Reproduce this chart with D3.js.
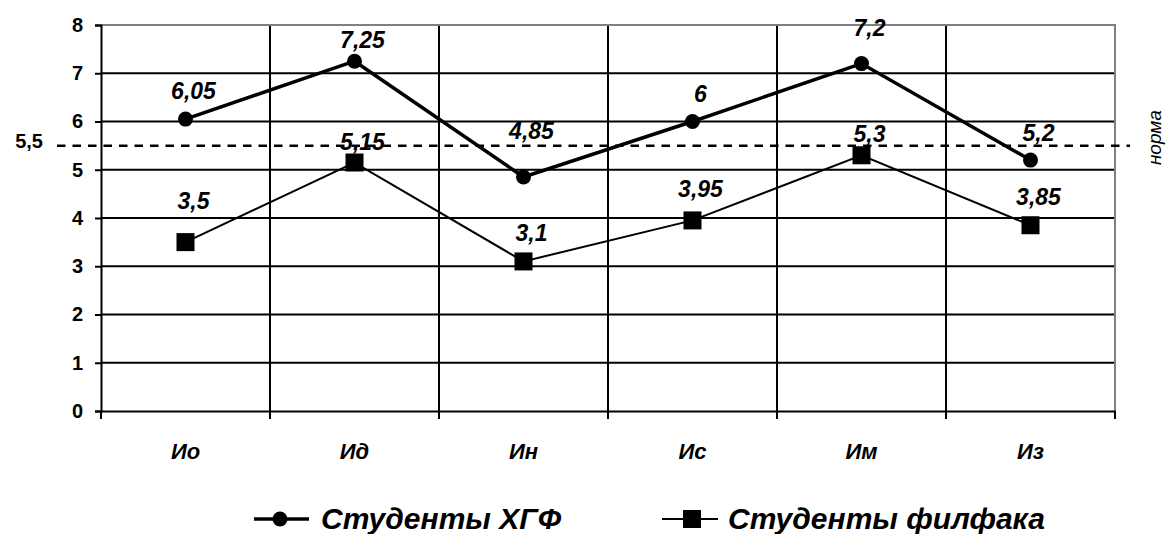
<!DOCTYPE html>
<html>
<head>
<meta charset="utf-8">
<script src="https://cdn.jsdelivr.net/npm/d3@7"></script>
<style>
  body { margin: 0; background: #fff; }
  svg text { font-family: Arial, "Liberation Sans", sans-serif; fill: #000; }
</style>
</head>
<body>
<div id="chart"></div>
<script>
// data
var categories = ["Ио", "Ид", "Ин", "Ис", "Им", "Из"];
var hgfValues = [6.05, 7.25, 4.85, 6, 7.2, 5.2];
var filValues = [3.5, 5.15, 3.1, 3.95, 5.3, 3.85];
var seriesNames = ["Студенты ХГФ", "Студенты филфака"];
var yTicks = [0, 1, 2, 3, 4, 5, 6, 7, 8];
var normValue = 5.5;
var normLabel = "норма";

// manual label shifts (as placed in the original)
var hgfLabelDy = [-20, -13, -38, -20, -28, -19];
var filLabelDy = [-33, -13, -20, -23, -13, -20];

var fmt = (v) => String(v).replace(".", ",");

var svg = d3.select("#chart").append("svg");
svg.attr("width", 1168).attr("height", 534);

var margin = { top: 25, left: 101, right: 53, bottom: 123 };
var width = 1168 - margin.left - margin.right;
var bottomY = 534 - margin.bottom;

var x = d3.scaleBand().domain(categories).range([margin.left, margin.left + width]).padding(0);
var y = d3.scaleLinear().domain([0, 8]).range([bottomY, margin.top]);
var cx = (c) => x(c) + x.bandwidth() / 2;

// horizontal grid
svg.append("g")
  .selectAll("line")
  .data(yTicks.filter((t) => t > 0 && t < 8))
  .join("line")
  .attr("x1", margin.left).attr("x2", margin.left + width)
  .attr("y1", (d) => y(d)).attr("y2", (d) => y(d))
  .attr("stroke", "#000").attr("stroke-width", 2);

// vertical grid
svg.append("g")
  .selectAll("line")
  .data(categories.slice(1))
  .join("line")
  .attr("x1", (d) => x(d)).attr("x2", (d) => x(d))
  .attr("y1", margin.top).attr("y2", bottomY)
  .attr("stroke", "#000").attr("stroke-width", 2);

// plot frame top/right (grey)
svg.append("path")
  .attr("d", `M${margin.left},${y(8)}H${margin.left + width}V${bottomY}`)
  .attr("fill", "none").attr("stroke", "#808080").attr("stroke-width", 2);

// y axis
var yAxis = svg.append("g")
  .attr("transform", `translate(${margin.left},0)`)
  .call(d3.axisLeft(y).tickValues(yTicks).tickSize(6).tickPadding(12).tickFormat(fmt));
yAxis.select(".domain").attr("stroke", "#000").attr("stroke-width", 2);
yAxis.selectAll(".tick line").attr("stroke", "#000").attr("stroke-width", 2);
yAxis.selectAll(".tick text")
  .attr("font-size", 20).attr("font-weight", "bold")
  .style("font-family", "Arial, 'Liberation Sans', sans-serif");

// x axis
var xAxis = svg.append("g")
  .attr("transform", `translate(0,${bottomY})`)
  .call(d3.axisBottom(x).tickSize(0).tickPadding(32));
xAxis.select(".domain").attr("stroke", "#000").attr("stroke-width", 2);
xAxis.selectAll(".tick text")
  .attr("font-size", 22).attr("font-weight", "bold").attr("font-style", "italic")
  .style("font-family", "Arial, 'Liberation Sans', sans-serif");
svg.append("g")
  .selectAll("line")
  .data(categories.map((c) => x(c)).concat([margin.left + width]))
  .join("line")
  .attr("x1", (d) => d).attr("x2", (d) => d)
  .attr("y1", bottomY).attr("y2", bottomY + 8)
  .attr("stroke", "#000").attr("stroke-width", 2);

// norm line
svg.append("line")
  .attr("x1", 57).attr("x2", 1130)
  .attr("y1", y(normValue)).attr("y2", y(normValue))
  .attr("stroke", "#000").attr("stroke-width", 2.5)
  .attr("stroke-dasharray", "8.5,7");
svg.append("text")
  .attr("x", 43).attr("y", y(normValue) + 2)
  .attr("text-anchor", "end")
  .attr("font-size", 20).attr("font-weight", "bold")
  .text(fmt(normValue));
svg.append("text")
  .attr("transform", `translate(1161,${y(normValue) - 8}) rotate(-90)`)
  .attr("text-anchor", "middle")
  .attr("font-size", 19).attr("font-style", "italic")
  .text(normLabel);

var line = d3.line().x((d, i) => cx(categories[i])).y((d) => y(d));

// филфак series
svg.append("path")
  .datum(filValues)
  .attr("d", line)
  .attr("fill", "none").attr("stroke", "#000").attr("stroke-width", 2);
svg.append("g")
  .selectAll("rect")
  .data(filValues)
  .join("rect")
  .attr("x", (d, i) => cx(categories[i]) - 9)
  .attr("y", (d) => y(d) - 9)
  .attr("width", 18).attr("height", 18)
  .attr("fill", "#000");

// ХГФ series
svg.append("path")
  .datum(hgfValues)
  .attr("d", line)
  .attr("fill", "none").attr("stroke", "#000").attr("stroke-width", 3.5);
svg.append("g")
  .selectAll("circle")
  .data(hgfValues)
  .join("circle")
  .attr("cx", (d, i) => cx(categories[i]))
  .attr("cy", (d) => y(d))
  .attr("r", 7.5)
  .attr("fill", "#000");

// data labels
function addLabels(values, dys) {
  svg.append("g")
    .selectAll("text")
    .data(values)
    .join("text")
    .attr("x", (d, i) => cx(categories[i]) + 8)
    .attr("y", (d, i) => y(d) + dys[i])
    .attr("text-anchor", "middle")
    .attr("font-size", 23).attr("font-weight", "bold").attr("font-style", "italic")
    .text(fmt);
}
addLabels(hgfValues, hgfLabelDy);
addLabels(filValues, filLabelDy);

// legend
var legendY = 519;
var legend = svg.append("g");
legend.append("line")
  .attr("x1", 254).attr("x2", 309).attr("y1", legendY).attr("y2", legendY)
  .attr("stroke", "#000").attr("stroke-width", 3.5);
legend.append("circle").attr("cx", 280).attr("cy", legendY).attr("r", 7.5).attr("fill", "#000");
legend.append("text")
  .attr("x", 321).attr("y", legendY + 10)
  .attr("font-size", 30).attr("font-weight", "bold").attr("font-style", "italic")
  .text(seriesNames[0]);
legend.append("line")
  .attr("x1", 662).attr("x2", 718).attr("y1", legendY).attr("y2", legendY)
  .attr("stroke", "#000").attr("stroke-width", 2);
legend.append("rect").attr("x", 683).attr("y", legendY - 9).attr("width", 18).attr("height", 18).attr("fill", "#000");
legend.append("text")
  .attr("x", 728).attr("y", legendY + 10)
  .attr("font-size", 30).attr("font-weight", "bold").attr("font-style", "italic")
  .text(seriesNames[1]);
</script>
</body>
</html>
